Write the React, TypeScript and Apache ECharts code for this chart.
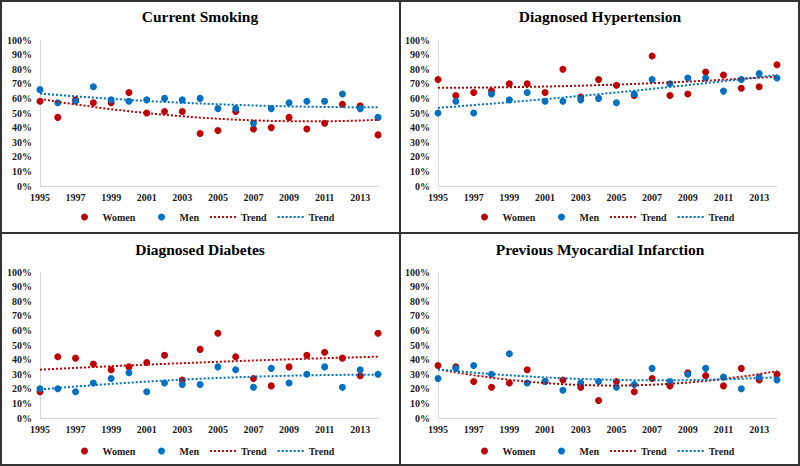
import React, { useEffect, useRef } from "react";
import * as echarts from "echarts";

const years = ["1995","1996","1997","1998","1999","2000","2001","2002","2003","2004","2005","2006","2007","2008","2009","2010","2011","2012","2013","2014"];

const titles = ["Current Smoking", "Diagnosed Hypertension", "Diagnosed Diabetes", "Previous Myocardial Infarction"];

const smokingWomen = [58,47,59,57,57,64,50,51,51,36,38,51,39,40,47,39,43,56,55,35];
const smokingMen = [66,57,58,68,59,58,59,60,59,60,53,53,43,53,57,58,58,63,53,47];

const hypertensionWomen = [73,62,64,65,70,70,64,80,61,73,69,62,89,62,63,78,76,67,68,83];
const hypertensionMen = [50,58,50,63,59,64,58,58,59,60,57,63,73,70,74,74,65,73,77,74];

const diabetesWomen = [18,42,41,37,33,35,38,43,26,47,58,42,27,22,35,43,45,41,29,58];
const diabetesMen = [20,20,18,24,27,31,18,24,23,23,35,33,21,34,24,30,35,21,33,30];

const infarctionWomen = [36,35,25,21,24,33,25,26,21,12,25,18,27,22,31,29,22,34,26,30];
const infarctionMen = [27,34,36,30,44,24,25,19,24,25,21,23,34,25,30,34,28,20,28,26];

const yTicks = [0, 10, 20, 30, 40, 50, 60, 70, 80, 90, 100];

const panels = [
  { women: smokingWomen, men: smokingMen },
  { women: hypertensionWomen, men: hypertensionMen },
  { women: diabetesWomen, men: diabetesMen },
  { women: infarctionWomen, men: infarctionMen },
];

// Quadratic least-squares trend (as in the original's polynomial trendline)
function quadTrend(ys: number[]): number[] {
  const n = ys.length;
  let s0 = 0, s1 = 0, s2 = 0, s3 = 0, s4 = 0, t0 = 0, t1 = 0, t2 = 0;
  for (let i = 0; i < n; i++) {
    const x = i;
    s0 += 1; s1 += x; s2 += x * x; s3 += x * x * x; s4 += x * x * x * x;
    t0 += ys[i]; t1 += x * ys[i]; t2 += x * x * ys[i];
  }
  const M = [
    [s0, s1, s2, t0],
    [s1, s2, s3, t1],
    [s2, s3, s4, t2],
  ];
  for (let c = 0; c < 3; c++) {
    let p = c;
    for (let r = c + 1; r < 3; r++) if (Math.abs(M[r][c]) > Math.abs(M[p][c])) p = r;
    [M[c], M[p]] = [M[p], M[c]];
    for (let r = 0; r < 3; r++) {
      if (r === c) continue;
      const f = M[r][c] / M[c][c];
      for (let k = c; k < 4; k++) M[r][k] -= f * M[c][k];
    }
  }
  const a = M[0][3] / M[0][0];
  const b = M[1][3] / M[1][1];
  const cc = M[2][3] / M[2][2];
  return ys.map((_, i) => +(a + b * i + cc * i * i).toFixed(3));
}

const RED = "#C00000";
const BLUE = "#0070C0";
const FONT = "Liberation Serif";

export default function App() {
  const ref = useRef<HTMLDivElement>(null);
  useEffect(() => {
    if (!ref.current) return;
    const chart = echarts.init(ref.current, null, { renderer: "svg" });

    const grids = [
      { left: 40, top: 40, width: 338, height: 146 },
      { left: 438, top: 40, width: 339, height: 146 },
      { left: 40, top: 272, width: 338, height: 146 },
      { left: 438, top: 272, width: 339, height: 146 },
    ];
    const titlePos = [
      { x: 200, y: 8 },
      { x: 600, y: 8 },
      { x: 200, y: 241 },
      { x: 600, y: 241 },
    ];
    const legendPos = [
      { left: 81, top: 212 },
      { left: 481, top: 212 },
      { left: 81, top: 446 },
      { left: 481, top: 446 },
    ];

    const axisLabelStyle = { fontFamily: FONT, fontWeight: "bold" as const, fontSize: 10, color: "#1a1a1a" };
    const legendText = { fontFamily: FONT, fontWeight: "bold" as const, fontSize: 10, color: "#1a1a1a" };

    const series: any[] = [];
    panels.forEach((p, i) => {
      series.push({
        name: "Women", type: "scatter", xAxisIndex: i, yAxisIndex: i,
        data: p.women, symbolSize: 7, itemStyle: { color: RED, opacity: 1 }, z: 2,
      });
      series.push({
        name: "Men", type: "scatter", xAxisIndex: i, yAxisIndex: i,
        data: p.men, symbolSize: 7, itemStyle: { color: BLUE, opacity: 1 }, z: 3,
      });
      series.push({
        name: "TrendW", type: "line", xAxisIndex: i, yAxisIndex: i,
        data: quadTrend(p.women), symbol: "none", smooth: false,
        lineStyle: { color: RED, type: "dotted", width: 2 }, itemStyle: { color: RED }, z: 4,
      });
      series.push({
        name: "TrendM", type: "line", xAxisIndex: i, yAxisIndex: i,
        data: quadTrend(p.men), symbol: "none", smooth: false,
        lineStyle: { color: BLUE, type: "dotted", width: 2 }, itemStyle: { color: BLUE }, z: 4,
      });
    });

    const legendBase = {
      orient: "horizontal",
      itemWidth: 26,
      itemHeight: 7,
      itemGap: 10,
      padding: 0,
      selectedMode: false,
      formatter: (n: string) => (n.indexOf("Trend") === 0 ? "Trend" : n),
      textStyle: legendText,
    };

    const legends: any[] = [];
    legendPos.forEach((lp) => {
      legends.push({ ...legendBase, left: lp.left, top: lp.top, data: [{ name: "Women" }] });
      legends.push({
        ...legendBase,
        left: lp.left + 77,
        top: lp.top,
        data: [
          { name: "Men" },
          { name: "TrendW", itemStyle: { opacity: 0 } },
          { name: "TrendM", itemStyle: { opacity: 0 } },
        ],
      });
    });

    const option: any = {
      animation: false,
      backgroundColor: "#ffffff",
      title: titles.map((t, i) => ({
        text: t,
        left: titlePos[i].x,
        top: titlePos[i].y,
        textAlign: "center",
        padding: 0,
        textStyle: { fontFamily: FONT, fontWeight: "bold", fontSize: 15.5, color: "#000" },
      })),
      legend: legends,
      grid: grids.map((g) => ({ ...g, containLabel: false })),
      xAxis: grids.map((_, i) => ({
        type: "category",
        gridIndex: i,
        data: years,
        boundaryGap: false,
        axisLine: { show: true, lineStyle: { color: "#d9d9d9", width: 1 } },
        axisTick: { show: false },
        splitLine: { show: false },
        axisLabel: { ...axisLabelStyle, interval: 1, margin: 6 },
      })),
      yAxis: grids.map((_, i) => ({
        type: "value",
        gridIndex: i,
        min: yTicks[0],
        max: yTicks[yTicks.length - 1],
        interval: 10,
        axisLine: { show: true, lineStyle: { color: "#d9d9d9", width: 1 } },
        axisTick: { show: false },
        splitLine: { show: false },
        axisLabel: { ...axisLabelStyle, margin: 8, formatter: "{value}%" },
      })),
      graphic: [
        { type: "rect", shape: { x: 1, y: 1, width: 798, height: 464 }, style: { fill: "none", stroke: "#333", lineWidth: 2 }, silent: true },
        { type: "line", shape: { x1: 400, y1: 0, x2: 400, y2: 466 }, style: { stroke: "#333", lineWidth: 2 }, silent: true },
        { type: "line", shape: { x1: 0, y1: 233, x2: 800, y2: 233 }, style: { stroke: "#333", lineWidth: 2 }, silent: true },
      ],
      series,
    };
    chart.setOption(option);
    return () => chart.dispose();
  }, []);

  return (
    <div
      ref={ref}
      style={{ position: "fixed", left: 0, top: 0, width: 800, height: 466, background: "#fff" }}
    />
  );
}
